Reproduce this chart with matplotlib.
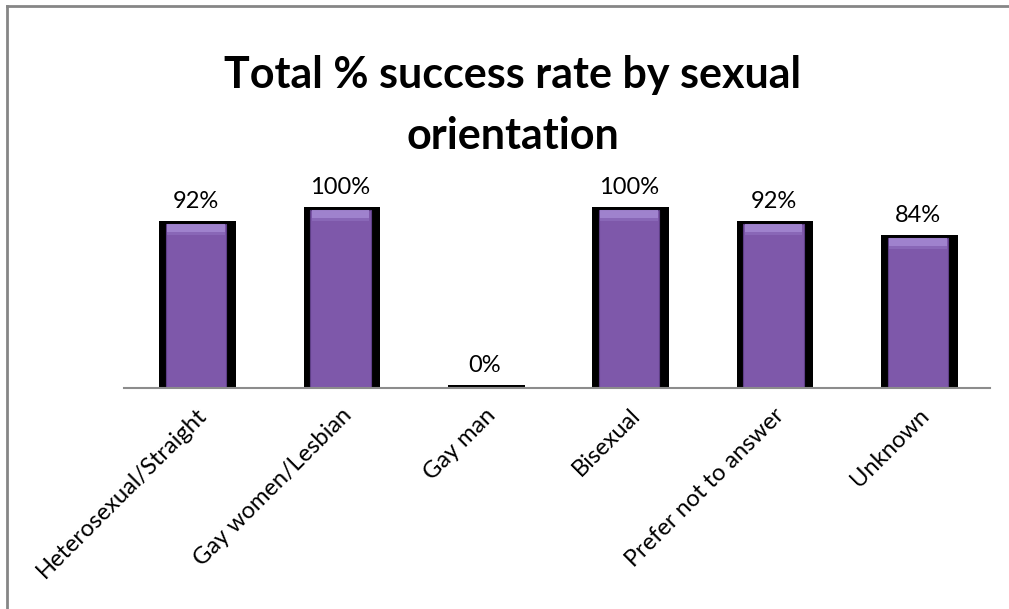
import numpy as np
import matplotlib.pyplot as plt
from matplotlib.lines import Line2D

plt.rcParams['font.family'] = ['Lato', 'DejaVu Sans']

# Success rate per group (percent)
categories = ['Heterosexual/Straight', 'Gay women/Lesbian', 'Gay man',
              'Bisexual', 'Prefer not to answer', 'Unknown']
success_pct = [92, 100, 0, 100, 92, 84]
title_lines = ['Total % success rate by sexual', 'orientation']

W, H = 1009, 609
fig = plt.figure(figsize=(W / 100, H / 100), dpi=100)
ax = fig.add_axes([124 / W, 221 / H, 866 / W, 196 / H])

x = np.arange(len(categories))
vals = np.array(success_pct, dtype=float)

# black shadow behind each bar
ax.bar(x + 0.01, vals + 1.6, width=0.53, color='black', zorder=2)
# main purple bars
ax.bar(x, vals, width=0.42, color='#7E58AA', edgecolor='#5E3F86',
       linewidth=0.8, zorder=3)
# glossy highlight along the top of each bar
for xi, v in zip(x, vals):
    if v > 0:
        ax.bar(xi, 4.5, bottom=v - 4.5, width=0.40, color='#A68AD4',
               alpha=0.85, zorder=4, linewidth=0)
        ax.bar(xi, 1.5, bottom=v - 6, width=0.40, color='#9272C0',
               alpha=0.6, zorder=4, linewidth=0)

for xi, v in zip(x, vals):
    ax.text(xi, v + 9, '{:.0f}%'.format(v), ha='center', va='baseline',
            fontsize=17, color='black')

ax.set_xlim(-0.5, len(categories) - 0.5)
ax.set_ylim(0, 110)
ax.set_yticks([])
ax.set_xticks(x)
ax.set_xticklabels(categories, rotation=45, ha='right', va='top',
                   rotation_mode='anchor', fontsize=17)
ax.tick_params(axis='x', length=0, pad=12)
for side in ['left', 'right', 'top']:
    ax.spines[side].set_visible(False)
ax.spines['bottom'].set_color('#8C8C8C')
ax.spines['bottom'].set_linewidth(1.5)
ax.spines['bottom'].set_zorder(5)
ax.patch.set_visible(False)

for line, base in zip(title_lines, [88, 149]):
    fig.text(0.5 + 8 / W, 1 - base / H, line, ha='center', va='baseline',
             fontsize=31, fontweight='bold')

# chart area border (left and top edges)
fig.add_artist(Line2D([7 / W, 7 / W], [0, 1 - 6 / H],
                      transform=fig.transFigure, color='#868686', lw=2))
fig.add_artist(Line2D([7 / W, 1], [1 - 6 / H, 1 - 6 / H],
                      transform=fig.transFigure, color='#868686', lw=2))

fig.savefig('out.png', dpi=100)
